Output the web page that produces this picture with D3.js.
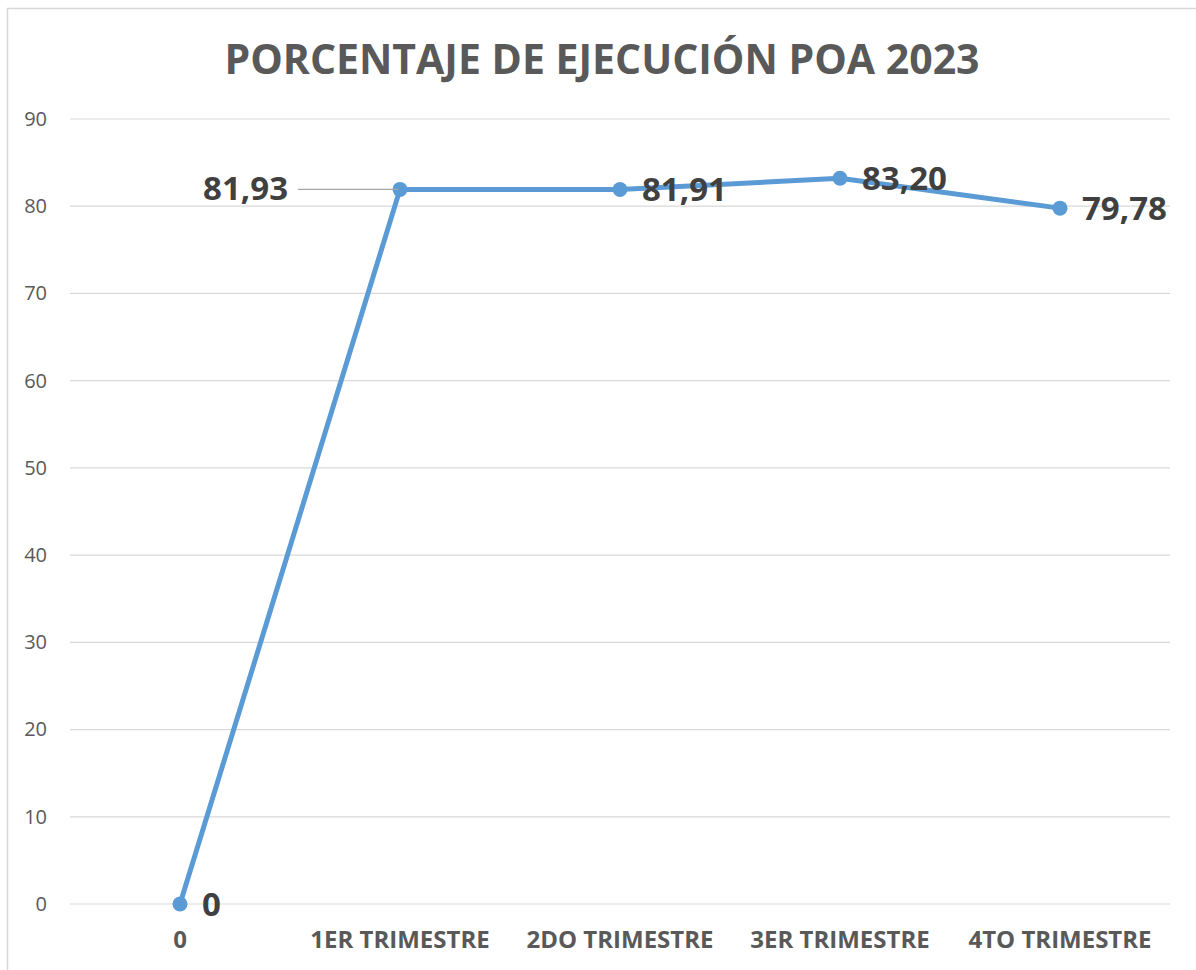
<!DOCTYPE html>
<html>
<head>
<meta charset="utf-8">
<script src="https://cdn.jsdelivr.net/npm/d3@7"></script>
<style>
    body { margin: 0; background: #fff; }
    svg { display: block; }
</style>
</head>
<body>
<svg id="chart" width="1196" height="970"></svg>
<script>
// chart data
const categories = ['0', '1ER TRIMESTRE', '2DO TRIMESTRE', '3ER TRIMESTRE', '4TO TRIMESTRE'];
const values = [0, 81.93, 81.91, 83.20, 79.78];
const yTicks = [0, 10, 20, 30, 40, 50, 60, 70, 80, 90];
const title = 'PORCENTAJE DE EJECUCIÓN POA 2023';

document.addEventListener('DOMContentLoaded', function () {
    const svg = d3.select('#chart');
    const margin = { top: 119, right: 26, bottom: 66, left: 70 };
    const width = 1196;
    const height = 970;
    const font = '"Open Sans", "DejaVu Sans", sans-serif';
    const grey = '#595959';
    const lineColor = '#5B9BD5';

    // outer frame of the chart area
    svg.append('rect')
        .attr('x', 7.5).attr('y', 8.5)
        .attr('width', width).attr('height', height)
        .attr('fill', 'none')
        .attr('stroke', '#d9d9d9')
        .attr('stroke-width', 1.5);

    const x = d3.scaleBand().domain(categories).range([margin.left, width - margin.right]);
    const y = d3.scaleLinear().domain([0, 90]).range([height - margin.bottom, margin.top]);

    const es = d3.formatLocale({ decimal: ',', thousands: '.', grouping: [3], currency: ['', '€'] });
    const fmt = v => v === 0 ? '0' : es.format('.2f')(v);

    // title
    svg.append('text')
        .attr('x', 602).attr('y', 74)
        .attr('text-anchor', 'middle')
        .attr('font-family', font)
        .attr('font-weight', 700)
        .attr('font-size', 41)
        .attr('fill', grey)
        .text(title);

    // gridlines
    svg.append('g')
        .selectAll('line')
        .data(yTicks)
        .enter()
        .append('line')
        .attr('x1', margin.left)
        .attr('x2', width - margin.right)
        .attr('y1', d => y(d))
        .attr('y2', d => y(d))
        .attr('stroke', '#d9d9d9')
        .attr('stroke-width', 1.2);

    // y axis labels
    const yAxis = svg.append('g')
        .attr('transform', `translate(${margin.left},0)`)
        .call(d3.axisLeft(y).tickValues(yTicks).tickSize(0).tickPadding(23));
    yAxis.select('.domain').remove();
    yAxis.selectAll('text')
        .attr('font-family', font)
        .attr('font-size', 20)
        .attr('fill', grey);

    // x axis labels
    const xAxis = svg.append('g')
        .attr('transform', `translate(0,${y(0)})`)
        .call(d3.axisBottom(x).tickSize(0).tickPadding(27));
    xAxis.select('.domain').remove();
    xAxis.selectAll('text')
        .attr('font-family', font)
        .attr('font-weight', 700)
        .attr('font-size', 24)
        .attr('fill', grey);

    const cx = d => x(d) + x.bandwidth() / 2;
    const points = categories.map((c, i) => ({ c: c, v: values[i] }));

    // series line
    svg.append('path')
        .datum(points)
        .attr('fill', 'none')
        .attr('stroke', lineColor)
        .attr('stroke-width', 5)
        .attr('stroke-linejoin', 'round')
        .attr('d', d3.line().x(d => cx(d.c)).y(d => y(d.v)));

    svg.append('g')
        .selectAll('circle')
        .data(points)
        .enter()
        .append('circle')
        .attr('cx', d => cx(d.c))
        .attr('cy', d => y(d.v))
        .attr('r', 7.5)
        .attr('fill', lineColor);

    // data labels (first quarter label was dragged left with a leader line)
    const labels = svg.append('g')
        .attr('font-family', font)
        .attr('font-weight', 700)
        .attr('font-size', 33)
        .attr('fill', '#404040');

    points.forEach((d, i) => {
        const px = cx(d.c);
        const py = y(d.v);
        if (i === 1) {
            svg.append('line')
                .attr('x1', px - 102).attr('x2', px - 2)
                .attr('y1', py).attr('y2', py)
                .attr('stroke', '#a6a6a6')
                .attr('stroke-width', 1.2);
            labels.append('text')
                .attr('x', px - 112).attr('y', py + 2)
                .attr('text-anchor', 'end')
                .attr('dominant-baseline', 'middle')
                .text(fmt(d.v));
        } else {
            labels.append('text')
                .attr('x', px + 22).attr('y', py + 3)
                .attr('dominant-baseline', 'middle')
                .text(fmt(d.v));
        }
    });
});
</script>
</body>
</html>
